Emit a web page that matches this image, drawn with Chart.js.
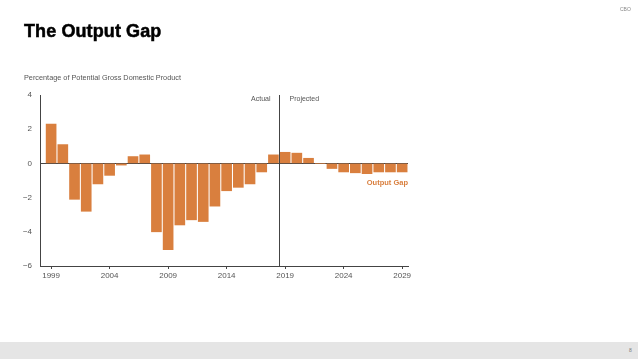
<!DOCTYPE html>
<html>
<head>
<meta charset="utf-8">
<script src="https://cdn.jsdelivr.net/npm/chart.js@4.4.1/dist/chart.umd.min.js"></script>
<style>
  html, body { margin: 0; padding: 0; background: #fff; }
  body { width: 638px; height: 359px; position: relative; overflow: hidden; font-family: "Liberation Sans", Arial, sans-serif; }
  #wrap { position: absolute; left: 0; top: 0; width: 638px; height: 359px; }
  .title { position: absolute; left: 24px; top: 21px; font-size: 18px; font-weight: bold; color: #000; -webkit-text-stroke: 0.5px #000; letter-spacing: 0.1px; white-space: nowrap; }
  .subtitle { position: absolute; left: 24px; top: 73px; font-size: 7.3px; color: #555; white-space: nowrap; }
  .cbo { position: absolute; left: 620px; top: 6px; font-size: 5px; color: #888; }
  .footer { position: absolute; left: 0; top: 342px; width: 638px; height: 17px; background: #e5e5e5; }
  .page { position: absolute; left: 629px; top: 347px; font-size: 5px; color: #777; }
</style>
</head>
<body>
<div id="wrap"><canvas id="c" width="638" height="359"></canvas></div>
<div class="title">The Output Gap</div>
<div class="subtitle">Percentage of Potential Gross Domestic Product</div>
<div class="cbo">CBO</div>
<div class="footer"></div>
<div class="page">8</div>
<script>
// ---- data ----
const years = [1999,2000,2001,2002,2003,2004,2005,2006,2007,2008,2009,2010,2011,2012,2013,2014,2015,2016,2017,2018,2019,2020,2021,2022,2023,2024,2025,2026,2027,2028,2029];
const outputGap = [2.3,1.1,-2.1,-2.8,-1.2,-0.7,-0.1,0.4,0.5,-4.0,-5.05,-3.6,-3.3,-3.4,-2.5,-1.6,-1.4,-1.2,-0.5,0.5,0.65,0.6,0.3,0,-0.3,-0.5,-0.55,-0.6,-0.5,-0.5,-0.5];
const xTickYears = [1999,2004,2009,2014,2019,2024,2029];
const yTickValues = [-6,-4,-2,0,2,4];
const seriesLabel = "Output Gap";
const dividerYear = 2018.5;
const dividerLabels = ["Actual", "Projected"];

// ---- styles ----
const ORANGE = "#D97F3E";
const AXIS = "#444";
const TICKCOL = "#555";
const FONT = "'Liberation Sans', Arial, sans-serif";

const annotations = {
  id: "annotations",
  afterDatasetsDraw(chart) {
    const { ctx, chartArea, scales } = chart;
    const x = Math.round(scales.x.getPixelForValue(dividerYear)) + 0.5;
    ctx.save();
    ctx.strokeStyle = AXIS;
    ctx.lineWidth = 1;
    ctx.beginPath();
    ctx.moveTo(x, chartArea.top);
    ctx.lineTo(x, chartArea.bottom);
    ctx.stroke();
    ctx.font = "7px " + FONT;
    ctx.fillStyle = TICKCOL;
    ctx.textBaseline = "middle";
    ctx.textAlign = "right";
    ctx.fillText(dividerLabels[0], x - 9, chartArea.top + 4);
    ctx.textAlign = "left";
    ctx.fillText(dividerLabels[1], x + 10, chartArea.top + 4);
    ctx.font = "bold 7.5px " + FONT;
    ctx.fillStyle = ORANGE;
    ctx.textAlign = "right";
    ctx.fillText(seriesLabel, chartArea.right, scales.y.getPixelForValue(-1.15));
    ctx.restore();
  }
};

new Chart(document.getElementById("c"), {
  type: "bar",
  data: {
    datasets: [{
      label: seriesLabel,
      data: years.map((y, i) => ({ x: y, y: outputGap[i] })),
      backgroundColor: ORANGE,
      borderWidth: 0,
      barThickness: 10
    }]
  },
  options: {
    responsive: false,
    animation: false,
    devicePixelRatio: 1,
    layout: { padding: { left: 0, right: 230, top: 95, bottom: 73 } },
    plugins: { legend: { display: false }, tooltip: { enabled: false } },
    scales: {
      x: {
        type: "linear",
        min: 1998.05,
        max: 2029.5,
        offset: false,
        afterBuildTicks: (s) => { s.ticks = xTickYears.map(v => ({ value: v })); },
        afterFit: (s) => { s.height = 20; },
        ticks: {
          autoSkip: false, maxRotation: 0, padding: 2,
          color: TICKCOL, font: { size: 8, family: FONT },
          callback: (v) => String(v)
        },
        grid: { offset: false, drawOnChartArea: false, drawTicks: true, tickLength: 3, color: AXIS },
        border: { display: true, color: AXIS }
      },
      y: {
        min: -6,
        max: 4,
        afterBuildTicks: (s) => { s.ticks = yTickValues.map(v => ({ value: v })); },
        afterFit: (s) => { s.width = 40; },
        ticks: {
          padding: 8, color: TICKCOL, font: { size: 8, family: FONT },
          callback: (v) => (v < 0 ? "\u2212" + Math.abs(v) : String(v))
        },
        grid: {
          offset: false,
          drawTicks: false,
          color: (c) => (c.tick && c.tick.value === 0 ? AXIS : "rgba(0,0,0,0)")
        },
        border: { display: true, color: AXIS }
      }
    }
  },
  plugins: [annotations]
});
</script>
</body>
</html>
